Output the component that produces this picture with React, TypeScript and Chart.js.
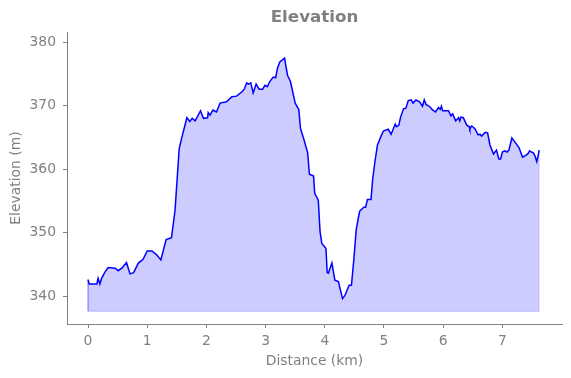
import React, { useEffect, useRef } from "react";
import { Chart, registerables } from "chart.js";

Chart.register(...registerables);

const distanceKm: number[] = [
  0.0, 0.02, 0.15, 0.17, 0.2, 0.23, 0.28, 0.34, 0.46, 0.51, 0.57, 0.65, 0.71, 0.77, 0.85, 0.93,
  1.0, 1.08, 1.16, 1.23, 1.32, 1.41, 1.47, 1.54, 1.58, 1.67, 1.72, 1.76, 1.81, 1.9, 1.95,
  2.02, 2.03, 2.06, 2.11, 2.17, 2.23, 2.34, 2.43, 2.51, 2.6, 2.64, 2.68, 2.71, 2.75, 2.79,
  2.84, 2.89, 2.95, 2.99, 3.03, 3.07, 3.13, 3.17, 3.2, 3.24, 3.32, 3.37, 3.42, 3.5, 3.56,
  3.59, 3.65, 3.71, 3.74, 3.81, 3.83, 3.89, 3.92, 3.95, 4.02, 4.04, 4.06, 4.12, 4.17, 4.23,
  4.27, 4.3, 4.34, 4.41, 4.45, 4.49, 4.53, 4.57, 4.59, 4.66, 4.69, 4.72, 4.78, 4.81, 4.85,
  4.89, 4.95, 4.99, 5.07, 5.12, 5.19, 5.21, 5.25, 5.28, 5.33, 5.37, 5.41, 5.46, 5.49, 5.54,
  5.6, 5.65, 5.68, 5.71, 5.78, 5.81, 5.87, 5.92, 5.95, 5.97, 5.99, 6.09, 6.13, 6.16, 6.21,
  6.26, 6.28, 6.3, 6.34, 6.4, 6.44, 6.45, 6.48, 6.51, 6.54, 6.59, 6.62, 6.65, 6.71, 6.75,
  6.79, 6.85, 6.9, 6.94, 6.97, 7.0, 7.04, 7.08, 7.11, 7.16, 7.21, 7.28, 7.34, 7.38, 7.43,
  7.46, 7.49, 7.52, 7.55, 7.58, 7.61, 7.62,
];

const elevationM: number[] = [
  342.6, 341.9, 341.9, 342.8, 341.9, 342.8, 343.7, 344.5, 344.4, 344.0, 344.4, 345.3, 343.5, 343.7, 345.2, 345.8,
  347.1, 347.1, 346.5, 345.7, 348.9, 349.2, 353.5, 363.2, 364.8, 368.1, 367.5, 368.0, 367.6, 369.2, 368.0,
  368.1, 368.9, 368.5, 369.3, 369.0, 370.4, 370.6, 371.4, 371.5, 372.2, 372.6, 373.6, 373.4, 373.6, 372.0,
  373.4, 372.6, 372.6, 373.2, 373.0, 373.8, 374.5, 374.4, 375.9, 376.9, 377.5, 374.8, 373.8, 370.4, 369.4,
  366.4, 364.6, 362.6, 359.2, 358.9, 356.2, 355.1, 350.1, 348.3, 347.5, 343.7, 343.6, 345.2, 342.5, 342.3,
  340.7, 339.6, 340.1, 341.7, 341.7, 345.7, 350.4, 352.5, 353.4, 354.0, 354.0, 355.2, 355.2, 358.5, 361.4,
  363.8, 365.2, 366.0, 366.3, 365.5, 367.1, 366.7, 366.9, 368.2, 369.5, 369.6, 370.8, 370.9, 370.4, 370.9,
  370.6, 369.9, 370.9, 370.2, 369.8, 369.4, 369.0, 369.7, 369.4, 369.9, 369.2, 369.2, 368.4, 368.7, 367.6,
  368.1, 367.6, 368.2, 368.1, 366.9, 366.7, 366.3, 366.8, 366.6, 366.3, 365.4, 365.5, 365.2, 365.8, 365.7,
  363.8, 362.4, 363.0, 361.6, 361.6, 362.7, 362.9, 362.7, 363.0, 364.9, 364.3, 363.4, 361.9, 362.1, 362.4,
  362.9, 362.7, 362.6, 362.1, 361.2, 362.4, 363.0,
];

const fillBase = 337.6;
const xTicks: number[] = [0, 1, 2, 3, 4, 5, 6, 7];
const yTicks: number[] = [340, 350, 360, 370, 380];
const xRange: number[] = [-0.355, 8.007];
const yRange: number[] = [335.6, 381.6];

const GRAY = "#808080";
const FONT = "'DejaVu Sans', sans-serif";

export default function App() {
  const ref = useRef<HTMLCanvasElement | null>(null);

  useEffect(() => {
    if (!ref.current) return;
    const pts = distanceKm.map((d, i) => ({ x: d, y: elevationM[i] }));
    const first = pts[0];
    const last = pts[pts.length - 1];
    const edge = [
      { x: first.x, y: first.y },
      { x: first.x, y: fillBase },
      { x: last.x, y: fillBase },
      { x: last.x, y: last.y },
    ];
    const chart = new Chart(ref.current, {
      type: "line",
      data: {
        datasets: [
          {
            data: pts,
            borderColor: "#0000ff",
            borderWidth: 1.5,
            backgroundColor: "rgba(0,0,255,0.2)",
            fill: { value: fillBase },
            pointRadius: 0,
            tension: 0,
          },
          {
            data: edge,
            borderColor: "rgba(0,0,255,0.2)",
            borderWidth: 1,
            fill: false,
            pointRadius: 0,
            tension: 0,
          },
        ],
      },
      options: {
        animation: false,
        responsive: false,
        layout: { padding: { left: 0, right: 9, top: 0, bottom: 0 } },
        plugins: {
          legend: { display: false },
          tooltip: { enabled: false },
          title: {
            display: true,
            text: "Elevation",
            fullSize: false,
            color: GRAY,
            font: { family: FONT, size: 16.7, weight: "bold" },
            padding: { top: 8, bottom: 4 },
          },
        },
        scales: {
          x: {
            type: "linear",
            min: xRange[0],
            max: xRange[1],
            afterBuildTicks: (s: any) => {
              s.ticks = xTicks.map((v) => ({ value: v }));
            },
            afterFit: (s: any) => {
              s.height = 54;
            },
            grid: { display: true, drawOnChartArea: false, drawTicks: true, tickLength: 4, color: GRAY },
            border: { display: true, color: GRAY, width: 1 },
            ticks: {
              color: GRAY,
              font: { family: FONT, size: 13.9 },
              padding: 5.5,
              callback: (v: any) => String(v),
            },
            title: {
              display: true,
              text: "Distance (km)",
              color: GRAY,
              font: { family: FONT, size: 13.9 },
              padding: { top: 0, bottom: 8.5 },
            },
          },
          y: {
            type: "linear",
            min: yRange[0],
            max: yRange[1],
            afterBuildTicks: (s: any) => {
              s.ticks = yTicks.map((v) => ({ value: v }));
            },
            afterFit: (s: any) => {
              s.width = 67;
            },
            grid: { display: true, drawOnChartArea: false, drawTicks: true, tickLength: 4, color: GRAY },
            border: { display: true, color: GRAY, width: 1 },
            ticks: {
              color: GRAY,
              font: { family: FONT, size: 13.9 },
              padding: 7,
              callback: (v: any) => String(v),
            },
            title: {
              display: true,
              text: "Elevation (m)",
              color: GRAY,
              font: { family: FONT, size: 13.9 },
              padding: { top: 8.5, bottom: 0 },
            },
          },
        },
      },
    } as any);
    return () => chart.destroy();
  }, []);

  return (
    <div style={{ position: "fixed", left: 0, top: 0, width: 571, height: 378, background: "#fff" }}>
      <canvas ref={ref} width={571} height={378} style={{ display: "block" }} />
    </div>
  );
}
